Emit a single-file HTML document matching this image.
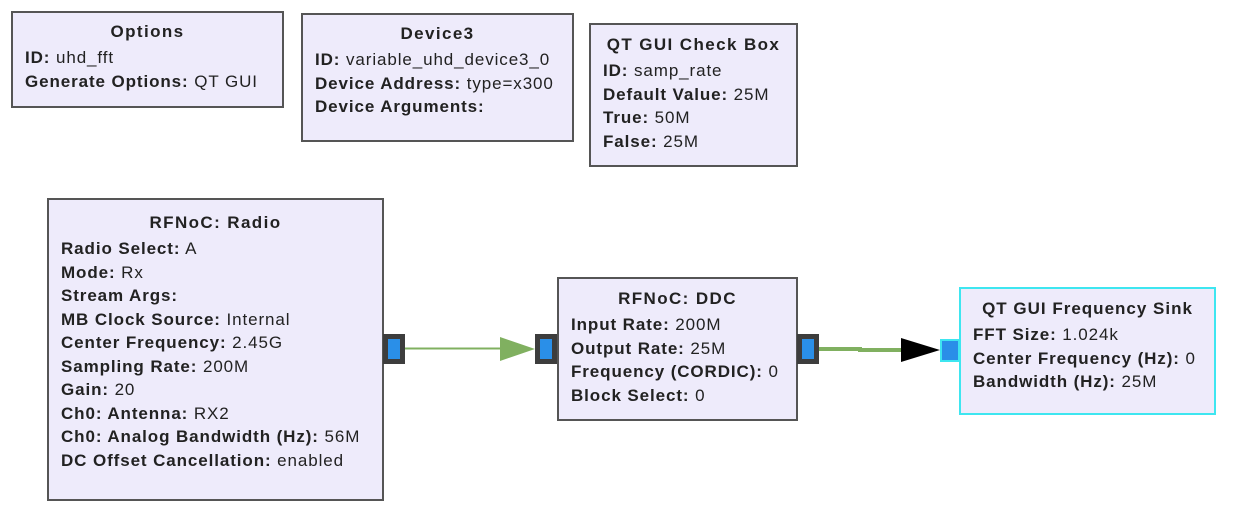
<!DOCTYPE html>
<html><head><style>
body{margin:0;width:1236px;height:524px;background:#fff;position:relative;font-family:"Liberation Sans",Arial,sans-serif;font-size:17px;color:#222;overflow:hidden;letter-spacing:0.9px}
.b{position:absolute;box-sizing:border-box;background:#eeebfb;border:2px solid #555;padding:9px 0 0 12px;line-height:23.5px;white-space:nowrap}
.b .t{text-align:center;font-weight:bold;margin-left:-12px;font-size:17px;letter-spacing:1.4px;line-height:24px;margin-bottom:2px}
.b b{font-weight:bold}
.p{position:absolute;box-sizing:border-box;background:#2a8fe8;border:5px solid #3d3d3d}
</style></head><body>
<div class="b" style="left:11px;top:11px;width:273px;height:97px;padding-top:7px"><div class="t">Options</div><b>ID:</b> uhd_fft<br><b>Generate Options:</b> QT GUI</div>
<div class="b" style="left:301px;top:13px;width:273px;height:129px;padding-top:7px"><div class="t">Device3</div><b>ID:</b> variable_uhd_device3_0<br><b>Device Address:</b> type=x300<br><b>Device Arguments:</b></div>
<div class="b" style="left:589px;top:23px;width:209px;height:144px;padding-top:8px"><div class="t">QT GUI Check Box</div><b>ID:</b> samp_rate<br><b>Default Value:</b> 25M<br><b>True:</b> 50M<br><b>False:</b> 25M</div>
<div class="b" style="left:47px;top:198px;width:337px;height:303px;padding-top:11px"><div class="t">RFNoC: Radio</div><b>Radio Select:</b> A<br><b>Mode:</b> Rx<br><b>Stream Args:</b><br><b>MB Clock Source:</b> Internal<br><b>Center Frequency:</b> 2.45G<br><b>Sampling Rate:</b> 200M<br><b>Gain:</b> 20<br><b>Ch0: Antenna:</b> RX2<br><b>Ch0: Analog Bandwidth (Hz):</b> 56M<br><b>DC Offset Cancellation:</b> enabled</div>
<div class="b" style="left:557px;top:277px;width:241px;height:144px;padding-top:8px"><div class="t">RFNoC: DDC</div><b>Input Rate:</b> 200M<br><b>Output Rate:</b> 25M<br><b>Frequency (CORDIC):</b> 0<br><b>Block Select:</b> 0</div>
<div class="b" style="left:959px;top:287px;width:257px;height:128px;border-color:#3ee6f0;padding-top:8px"><div class="t" style="letter-spacing:1px">QT GUI Frequency Sink</div><b>FFT Size:</b> 1.024k<br><b>Center Frequency (Hz):</b> 0<br><b>Bandwidth (Hz):</b> 25M</div>
<div class="p" style="left:383px;top:334px;width:22px;height:30px"></div>
<div class="p" style="left:535px;top:334px;width:22px;height:30px"></div>
<div class="p" style="left:797px;top:334px;width:22px;height:30px"></div>
<div class="p" style="left:940px;top:339px;width:20px;height:23px;border:2px solid #3ee6f0"></div>
<svg style="position:absolute;left:0;top:0" width="1236" height="524">
<line x1="405" y1="348.5" x2="502" y2="348.5" stroke="#80b060" stroke-width="2"/>
<polygon points="500,337 535,349 500,361" fill="#80b060"/>
<polyline points="819,349 860,349 860,350 902,350" fill="none" stroke="#80b060" stroke-width="4"/>
<polygon points="901,338 940,350 901,362" fill="#000"/>
</svg>
</body></html>
